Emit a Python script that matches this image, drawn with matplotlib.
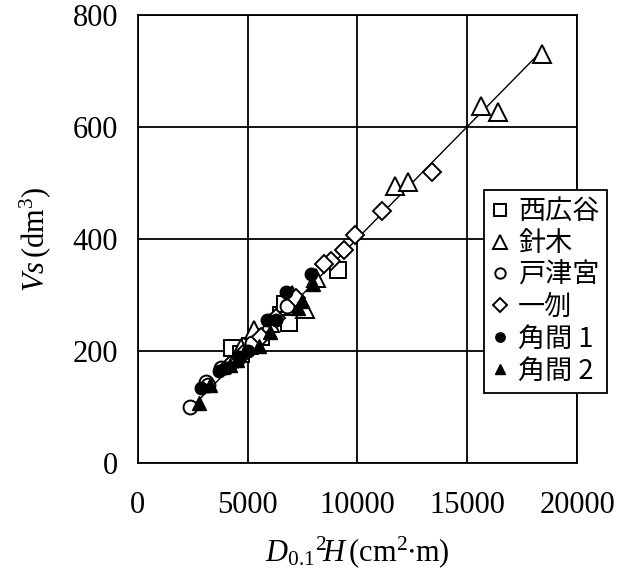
import matplotlib.pyplot as plt
import numpy as np

plt.rcParams["font.family"] = ["Liberation Serif", "Noto Sans CJK JP"]
plt.rcParams["mathtext.fontset"] = "custom"
plt.rcParams["mathtext.rm"] = "Liberation Serif"
plt.rcParams["mathtext.it"] = "Liberation Serif:italic"

# stem volume vs D0.1^2 H, by stand
nishihirodani_x = [4300, 4700, 5100, 5600, 6500, 6700, 6900, 9100]
nishihirodani_y = [205, 195, 210, 225, 265, 285, 250, 345]

hariki_x = [18400, 15650, 16400, 11700, 12300, 4700, 5300, 6000, 7000, 7600, 8100]
hariki_y = [730, 637, 627, 495, 502, 205, 237, 250, 300, 275, 330]

totsumiya_x = [2400, 3100, 3200, 3800, 4500, 5200, 6800]
totsumiya_y = [100, 145, 140, 170, 185, 215, 280]

ippane_x = [13400, 11100, 9900, 9400, 8800, 8500, 7200, 6300, 5600, 4800, 4200]
ippane_y = [520, 450, 408, 380, 360, 355, 295, 260, 225, 195, 175]

kakuma1_x = [2900, 3700, 4000, 4600, 5000, 5900, 6300, 6750, 7900]
kakuma1_y = [135, 165, 170, 190, 200, 255, 255, 305, 337]

kakuma2_x = [2800, 3300, 4200, 4500, 5500, 6000, 7300, 7500, 8000]
kakuma2_y = [108, 140, 175, 185, 210, 235, 277, 290, 320]

# regression line Vs = a * D^2H + b
fit_a = 0.0399
fit_b = 2.0
fit_range = [2500, 18500]

fig = plt.figure(figsize=(6.32, 5.74), dpi=100)
ax = fig.add_axes([0.218, 0.193, 0.695, 0.781])

fx = np.array(fit_range)
ax.plot(fx, fit_a * fx + fit_b, color="black", lw=1.0, zorder=2)

ax.plot(nishihirodani_x, nishihirodani_y, "s", ms=11, mfc="white", mec="black",
        mew=1.4, label="西広谷", zorder=3)
ax.plot(hariki_x, hariki_y, "^", ms=13, mfc="white", mec="black",
        mew=1.4, label="針木", zorder=3)
ax.plot(totsumiya_x, totsumiya_y, "o", ms=10, mfc="white", mec="black",
        mew=1.4, label="戸津宮", zorder=3)
ax.plot(ippane_x, ippane_y, "D", ms=9.5, mfc="white", mec="black",
        mew=1.4, label="一刎", zorder=3)
ax.plot(kakuma1_x, kakuma1_y, "o", ms=9, mfc="black", mec="black",
        label="角間 1", zorder=4)
ax.plot(kakuma2_x, kakuma2_y, "^", ms=10, mfc="black", mec="black",
        label="角間 2", zorder=4)

ax.set_xlim(0, 20000)
ax.set_ylim(0, 800)
ax.set_xticks([0, 5000, 10000, 15000, 20000])
ax.set_yticks([0, 200, 400, 600, 800])
ax.grid(True, color="black", lw=1.3)
ax.set_axisbelow(True)
for s in ax.spines.values():
    s.set_linewidth(1.3)
ax.tick_params(axis="x", length=0, labelsize=22, pad=20)
ax.tick_params(axis="y", length=0, labelsize=22, pad=14)

ax.set_xlabel(r"$D_{0.1}{}^{2}\!H\,\mathrm{(cm^{2}{\bullet}m)}$",
              fontsize=22, labelpad=10)
ax.set_ylabel(r"$Vs\,\mathrm{(dm^{3})}$", fontsize=22, labelpad=14)

leg = ax.legend(loc="upper left", bbox_to_anchor=(0.766, 0.669),
                bbox_transform=fig.transFigure, fancybox=False,
                edgecolor="black", framealpha=1, borderaxespad=0,
                markerscale=0.75, handlelength=0.6, handletextpad=0.35,
                labelspacing=0.18, borderpad=0.3,
                prop={"family": ["Noto Sans CJK JP", "Liberation Serif"], "size": 19.5})
leg.get_frame().set_linewidth(1.3)

fig.savefig("out.png", dpi=100)
